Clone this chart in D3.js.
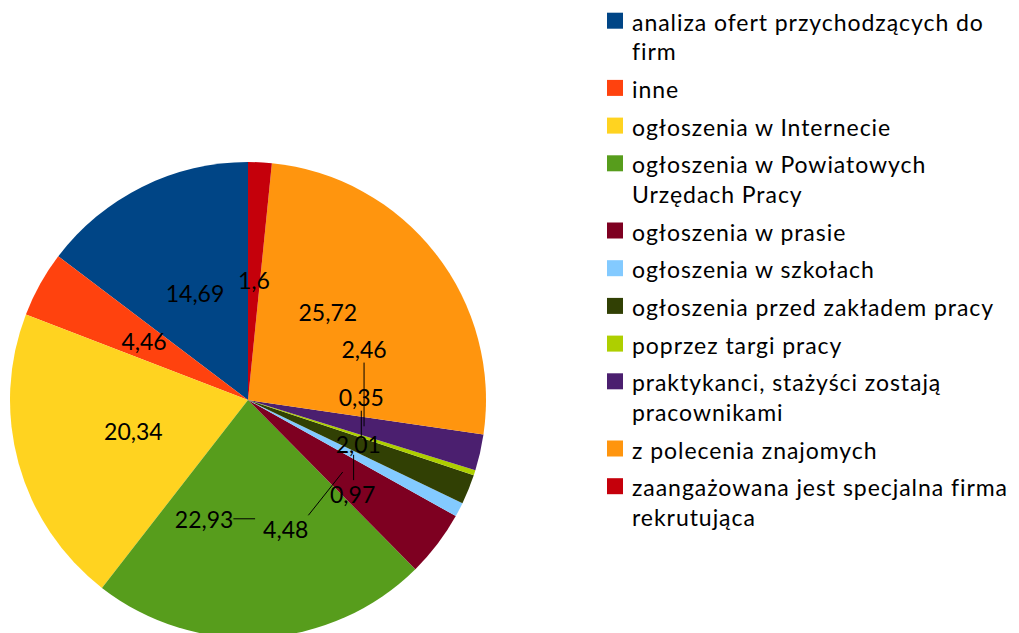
<!DOCTYPE html>
<html><head><meta charset="utf-8">
<script src="https://cdn.jsdelivr.net/npm/d3@7"></script>
<style>
html,body{margin:0;padding:0;background:#fff;}
svg{display:block;font-family:Lato,"Open Sans",sans-serif;}
</style></head>
<body><svg id="chart" width="1019" height="633"></svg>
<script>
const categories = [
  "analiza ofert przychodzących do firm",
  "inne",
  "ogłoszenia w Internecie",
  "ogłoszenia w Powiatowych Urzędach Pracy",
  "ogłoszenia w prasie",
  "ogłoszenia w szkołach",
  "ogłoszenia przed zakładem pracy",
  "poprzez targi pracy",
  "praktykanci, stażyści zostają pracownikami",
  "z polecenia znajomych",
  "zaangażowana jest specjalna firma rekrutująca"
];
const values = [14.69, 4.46, 20.34, 22.93, 4.48, 0.97, 2.01, 0.35, 2.46, 25.72, 1.6];
const colors = ["#004586","#ff420e","#ffd320","#579d1c","#7e0021","#83caff","#314004","#aecf00","#4b1f6f","#ff950e","#c5000b"];
// label displacement from slice centroid (layout only), and whether a leader line is drawn
const labelShift = [[0,0],[0,0],[0,0],[-51,1],[-57,58],[-1,40],[0,0],[0,-39],[0,-77],[-14,-14],[0,0]];
const hasLeader = [false,false,false,true,true,true,false,true,true,false,false];

const svg = d3.select("#chart");
const cx = 248, cy = 400, R = 238;
const fontSize = 23;

const pie = d3.pie().sort(null).value(d => d).startAngle(0).endAngle(-2 * Math.PI);
const arcs = pie(values);
const arc = d3.arc().innerRadius(0).outerRadius(R);

const g = svg.append("g").attr("transform", `translate(${cx},${cy})`);
g.selectAll("path.slice").data(arcs).join("path")
  .attr("class", "slice")
  .attr("d", arc)
  .attr("fill", (d, i) => colors[i]);

const fmt = v => String(v).replace(".", ",");

const labG = g.append("g");
arcs.forEach((d, i) => {
  const [x0, y0] = arc.centroid(d);
  const lx = x0 + labelShift[i][0], ly = y0 + labelShift[i][1];
  const t = labG.append("text")
    .attr("x", lx).attr("y", ly).attr("dy", "0.36em")
    .attr("text-anchor", "middle")
    .attr("font-size", fontSize).attr("fill", "#000")
    .text(fmt(values[i]));
  if (hasLeader[i]) {
    const b = t.node().getBBox();
    const ex = Math.max(b.x, Math.min(b.x + b.width, x0));
    const ey = Math.max(b.y, Math.min(b.y + b.height, y0));
    labG.insert("line", "text")
      .attr("x1", x0).attr("y1", y0).attr("x2", ex).attr("y2", ey)
      .attr("stroke", "#000").attr("stroke-width", 1);
  }
});

// legend
const legX = 607, textX = 632, maxW = 392, lineH = 29.5, gap = 8.2, ls = 0.95;
let baseline = 30.7;
const leg = svg.append("g");
categories.forEach((name, i) => {
  const words = name.split(" ");
  const lines = [];
  let cur = "";
  const probe = leg.append("text").attr("font-size", fontSize).attr("letter-spacing", ls);
  words.forEach(w => {
    const test = cur ? cur + " " + w : w;
    probe.text(test);
    if (probe.node().getComputedTextLength() > maxW && cur) {
      lines.push(cur); cur = w;
    } else cur = test;
  });
  lines.push(cur);
  probe.remove();
  leg.append("rect")
    .attr("x", legX).attr("y", baseline - 18)
    .attr("width", 16).attr("height", 16)
    .attr("fill", colors[i]);
  const t = leg.append("text").attr("font-size", fontSize).attr("letter-spacing", ls).attr("fill", "#000");
  lines.forEach((ln, k) => {
    t.append("tspan").attr("x", textX).attr("y", baseline + k * lineH).text(ln);
  });
  baseline += lines.length * lineH + gap;
});
</script>
</body></html>
